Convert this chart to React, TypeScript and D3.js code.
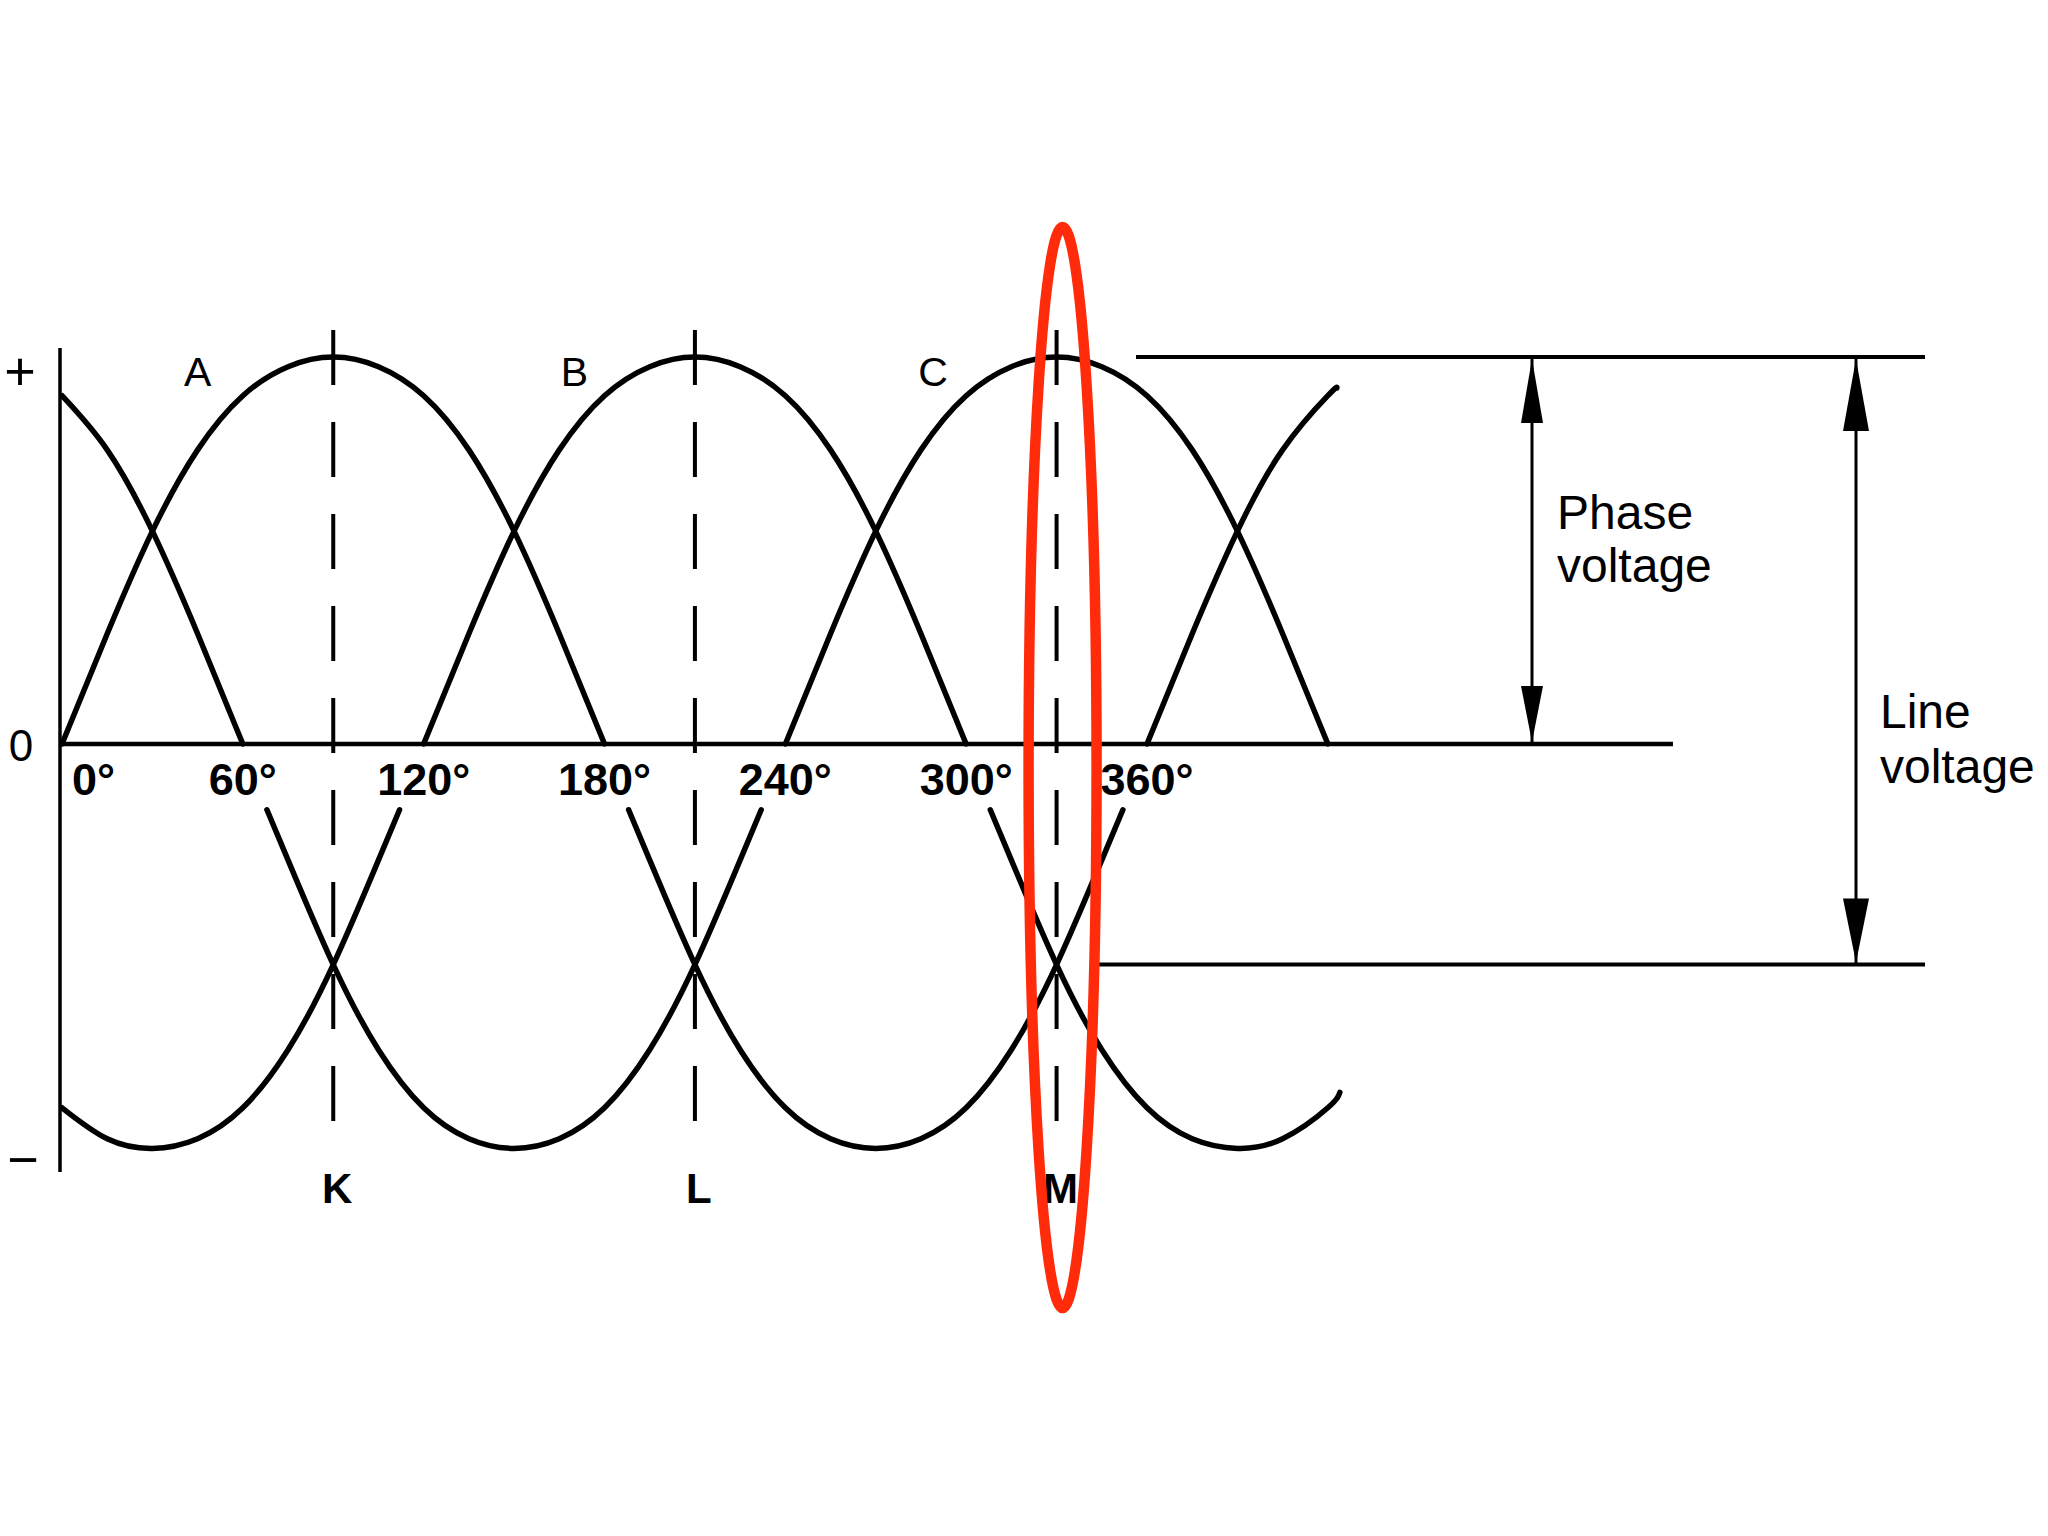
import React from "react";
import * as d3 from "d3";

// ---- Data (angle in degrees, value relative to phase peak) ----
const degreeTicks = [0, 60, 120, 180, 240, 300, 360];
const phaseNames = ["A", "B", "C"];
const phaseLabelAngles = [45, 170, 289];
const markerNames = ["K", "L", "M"];
const markerAngles = [90, 210, 330];
const lineVoltageLevel = -0.57; // level where the negative halves cross (line voltage)

// positive half-waves
const posC0: [number, number][] = [[0, 0.9], [15, 0.76], [30, 0.55], [45, 0.285], [60, 0]];
const posA1: [number, number][] = [[0, 0], [15, 0.285], [30, 0.55], [45, 0.76], [60, 0.9], [75, 0.975], [90, 1], [105, 0.975], [120, 0.9], [135, 0.76], [150, 0.55], [165, 0.285], [180, 0]];
const posB1: [number, number][] = [[120, 0], [135, 0.285], [150, 0.55], [165, 0.76], [180, 0.9], [195, 0.975], [210, 1], [225, 0.975], [240, 0.9], [255, 0.76], [270, 0.55], [285, 0.285], [300, 0]];
const posC1: [number, number][] = [[240, 0], [255, 0.285], [270, 0.55], [285, 0.76], [300, 0.9], [315, 0.975], [330, 1], [345, 0.975], [360, 0.9], [375, 0.76], [390, 0.55], [405, 0.285], [420, 0]];
const posA2: [number, number][] = [[360, 0], [375, 0.285], [390, 0.55], [405, 0.76], [420, 0.9], [423, 0.92]];

// negative half-waves (only the part drawn below the degree labels)
const negB1: [number, number][] = [[0, -0.94], [15, -1.02], [30, -1.045], [45, -1.02], [60, -0.94], [75, -0.79], [90, -0.57], [105, -0.3], [112, -0.17]];
const negC1: [number, number][] = [[68, -0.17], [75, -0.3], [90, -0.57], [105, -0.79], [120, -0.94], [135, -1.02], [150, -1.045], [165, -1.02], [180, -0.94], [195, -0.79], [210, -0.57], [225, -0.3], [232, -0.17]];
const negA1: [number, number][] = [[188, -0.17], [195, -0.3], [210, -0.57], [225, -0.79], [240, -0.94], [255, -1.02], [270, -1.045], [285, -1.02], [300, -0.94], [315, -0.79], [330, -0.57], [345, -0.3], [352, -0.17]];
const negB2: [number, number][] = [[308, -0.17], [315, -0.3], [330, -0.57], [345, -0.79], [360, -0.94], [375, -1.02], [390, -1.045], [405, -1.02], [420, -0.94], [424, -0.9]];

const curveSegments = [posC0, posA1, posB1, posC1, posA2, negB1, negC1, negA1, negB2];

const W = 2048;
const H = 1536;
const FONT = "'Liberation Sans', Arial, Helvetica, sans-serif";
const RED = "#ff2b0a";

export default function App() {
  const x = d3.scaleLinear().domain([0, 360]).range([62, 1147]);
  const y = d3.scaleLinear().domain([-1, 1]).range([1131, 357]);

  const line = d3
    .line<[number, number]>()
    .x((d) => x(d[0]))
    .y((d) => y(d[1]))
    .curve(d3.curveNatural);

  const y0 = y(0);
  const yTop = y(1);
  const yLine = y(lineVoltageLevel);

  const phaseArrowX = 1532;
  const lineArrowX = 1856;

  const head = (xc: number, apex: number, base: number, hw: number) =>
    `M${xc},${apex} L${xc - hw},${base} L${xc + hw},${base} Z`;

  return (
    <svg
      width={W}
      height={H}
      viewBox={`0 0 ${W} ${H}`}
      style={{ position: "absolute", left: 0, top: 0, display: "block", background: "#fff" }}
    >
      <rect x={0} y={0} width={W} height={H} fill="#fff" />

      {/* vertical axis */}
      <line x1={60} x2={60} y1={348} y2={1172} stroke="#000" strokeWidth={3.5} />
      {/* zero line */}
      <line x1={60} x2={1673} y1={y0} y2={y0} stroke="#000" strokeWidth={4.5} />

      {/* axis symbols */}
      <text x={20} y={390} fontFamily={FONT} fontSize={54} textAnchor="middle">+</text>
      <text x={21} y={761} fontFamily={FONT} fontSize={44} textAnchor="middle">0</text>
      <text x={23} y={1178} fontFamily={FONT} fontSize={54} textAnchor="middle">−</text>

      {/* dashed marker lines */}
      {markerAngles.map((a, i) => (
        <line
          key={"m" + i}
          x1={x(a)}
          x2={x(a)}
          y1={330}
          y2={1148}
          stroke="#000"
          strokeWidth={4}
          strokeDasharray="55 37"
        />
      ))}

      {/* waveform curves */}
      {curveSegments.map((seg, i) => (
        <path key={"c" + i} d={line(seg) || ""} fill="none" stroke="#000" strokeWidth={5.5} strokeLinecap="round" />
      ))}

      {/* degree labels */}
      {degreeTicks.map((t, i) => (
        <text
          key={"t" + i}
          x={i === 0 ? x(t) + 10 : x(t)}
          y={795}
          fontFamily={FONT}
          fontSize={45}
          fontWeight="bold"
          textAnchor={i === 0 ? "start" : "middle"}
        >
          {t + "°"}
        </text>
      ))}

      {/* phase names */}
      {phaseNames.map((n, i) => (
        <text key={"p" + i} x={x(phaseLabelAngles[i])} y={y(0.925)} fontFamily={FONT} fontSize={41} textAnchor="middle">
          {n}
        </text>
      ))}

      {/* marker names */}
      {markerNames.map((n, i) => (
        <text key={"k" + i} x={x(markerAngles[i]) + 4} y={1203} fontFamily={FONT} fontSize={42} fontWeight="bold" textAnchor="middle">
          {n}
        </text>
      ))}

      {/* reference lines on the right */}
      <line x1={1136} x2={1925} y1={yTop} y2={yTop} stroke="#000" strokeWidth={4} />
      <line x1={1097} x2={1925} y1={yLine} y2={yLine} stroke="#000" strokeWidth={4} />

      {/* phase voltage arrow */}
      <line x1={phaseArrowX} x2={phaseArrowX} y1={yTop} y2={y0} stroke="#000" strokeWidth={3} />
      <path d={head(phaseArrowX, yTop + 2, yTop + 66, 11)} fill="#000" />
      <path d={head(phaseArrowX, y0 - 2, y0 - 58, 11)} fill="#000" />

      {/* line voltage arrow */}
      <line x1={lineArrowX} x2={lineArrowX} y1={yTop} y2={yLine} stroke="#000" strokeWidth={3} />
      <path d={head(lineArrowX, yTop + 2, yTop + 74, 13)} fill="#000" />
      <path d={head(lineArrowX, yLine - 2, yLine - 66, 13)} fill="#000" />

      {/* annotation texts */}
      <text x={1557} y={529} fontFamily={FONT} fontSize={48}>Phase</text>
      <text x={1557} y={582} fontFamily={FONT} fontSize={48}>voltage</text>
      <text x={1880} y={728} fontFamily={FONT} fontSize={48}>Line</text>
      <text x={1880} y={783} fontFamily={FONT} fontSize={48}>voltage</text>

      {/* red highlight ellipse around M */}
      <ellipse cx={x(markerAngles[2]) + 6} cy={767.5} rx={34} ry={540.5} fill="none" stroke={RED} strokeWidth={10.5} />
    </svg>
  );
}
